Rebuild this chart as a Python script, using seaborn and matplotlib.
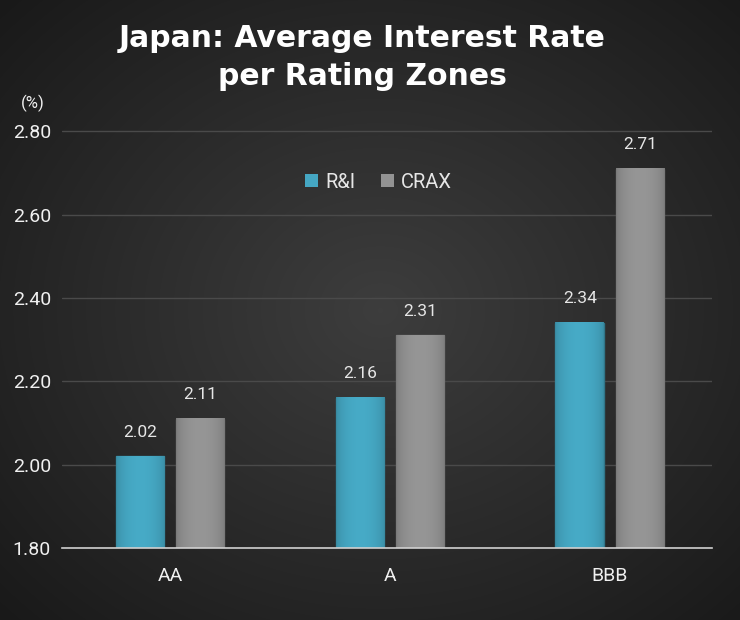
import numpy as np
import pandas as pd
import matplotlib
matplotlib.use("Agg")
import matplotlib.pyplot as plt
import seaborn as sns

# chart data
zones = ["AA", "A", "BBB"]
ri_rates = [2.02, 2.16, 2.34]
crax_rates = [2.11, 2.31, 2.71]
series_names = ["R&I", "CRAX"]
y_ticks = [1.80, 2.00, 2.20, 2.40, 2.60, 2.80]

df = pd.DataFrame({
    "zone": zones * 2,
    "rate": ri_rates + crax_rates,
    "agency": [series_names[0]] * 3 + [series_names[1]] * 3,
})

sns.set_theme(style="dark")
plt.rcParams["font.family"] = ["Roboto", "DejaVu Sans"]

blue = "#30b3d8"
gray = "#939393"

fig = plt.figure(figsize=(7.4, 6.2), dpi=100)

# radial dark background
bg = fig.add_axes([0, 0, 1, 1], zorder=-10)
yy, xx = np.mgrid[0:620, 0:740]
r = np.sqrt(((xx - 380) / 520.0) ** 2 + ((yy - 310) / 440.0) ** 2)
shade = np.clip(0.24 - 0.14 * r, 0.10, 0.24)
bg.imshow(np.dstack([shade] * 3), aspect="auto", extent=[0, 1, 0, 1])
bg.axis("off")

ax = fig.add_axes([62 / 740, 72 / 620, 650 / 740, 418 / 620])
ax.set_facecolor("none")

sns.barplot(data=df, x="zone", y="rate", hue="agency", hue_order=series_names,
            palette=[blue, gray], width=0.55, gap=0.2, ax=ax, zorder=3,
            edgecolor="none", linewidth=0)

# glossy-ish bars: horizontal shading clipped to each bar
for patch in ax.patches:
    if patch.get_height() <= 0 or patch.get_width() <= 0:
        continue
    base = np.array(matplotlib.colors.to_rgb(patch.get_facecolor()))
    x0, y0 = patch.get_x(), patch.get_y()
    w, h = patch.get_width(), patch.get_height()
    t = np.linspace(0, 1, 60)
    prof = 0.82 + 0.2 * np.sin(np.pi * t) ** 0.5
    img = np.clip(base[None, None, :] * prof[None, :, None], 0, 1)
    im = ax.imshow(img, extent=[x0, x0 + w, y0, y0 + h], aspect="auto",
                   zorder=3.5, interpolation="bilinear")
    im.set_clip_path(patch)
    im.set_clip_box(ax.bbox)
    patch.set_edgecolor(tuple(base * 0.7))
    patch.set_linewidth(1.0)

for cont in ax.containers:
    ax.bar_label(cont, fmt="%.2f", padding=12, color="#e6e6e6", fontsize=12.5)

ax.set_ylim(1.80, 2.803)
ax.set_xlim(-0.491, 2.464)
ax.set_yticks(y_ticks)
ax.set_yticklabels([f"{v:.2f}" for v in y_ticks], color="#f0f0f0", fontsize=14)
ax.tick_params(axis="x", colors="#f0f0f0", labelsize=14, length=0, pad=14)
ax.tick_params(axis="y", length=0, pad=8)
ax.set_xlabel("")
ax.set_ylabel("")

ax.grid(axis="y", color="#4a4a4a", linewidth=1, zorder=0)
ax.grid(axis="x", visible=False)
for side in ["top", "right", "left"]:
    ax.spines[side].set_visible(False)
ax.spines["bottom"].set_color("#d0d0d0")
ax.spines["bottom"].set_linewidth(1.2)
ax.spines["bottom"].set_zorder(4)

leg = ax.legend(loc="center", bbox_to_anchor=(0.487, 0.875), ncol=2, frameon=False,
                handlelength=0.65, handleheight=0.65, handletextpad=0.35,
                columnspacing=1.3, fontsize=14.5)
for t in leg.get_texts():
    t.set_color("#e6e6e6")

fig.text(0.49, 0.962, "Japan: Average Interest Rate\nper Rating Zones", ha="center",
         va="top", color="white", fontsize=21.5, fontweight="bold", linespacing=1.42,
         family="DejaVu Sans")
fig.text(33 / 740, 1 - 103 / 620, "(%)", ha="center", va="center",
         color="#f0f0f0", fontsize=12)

fig.savefig("out.png", dpi=100)
